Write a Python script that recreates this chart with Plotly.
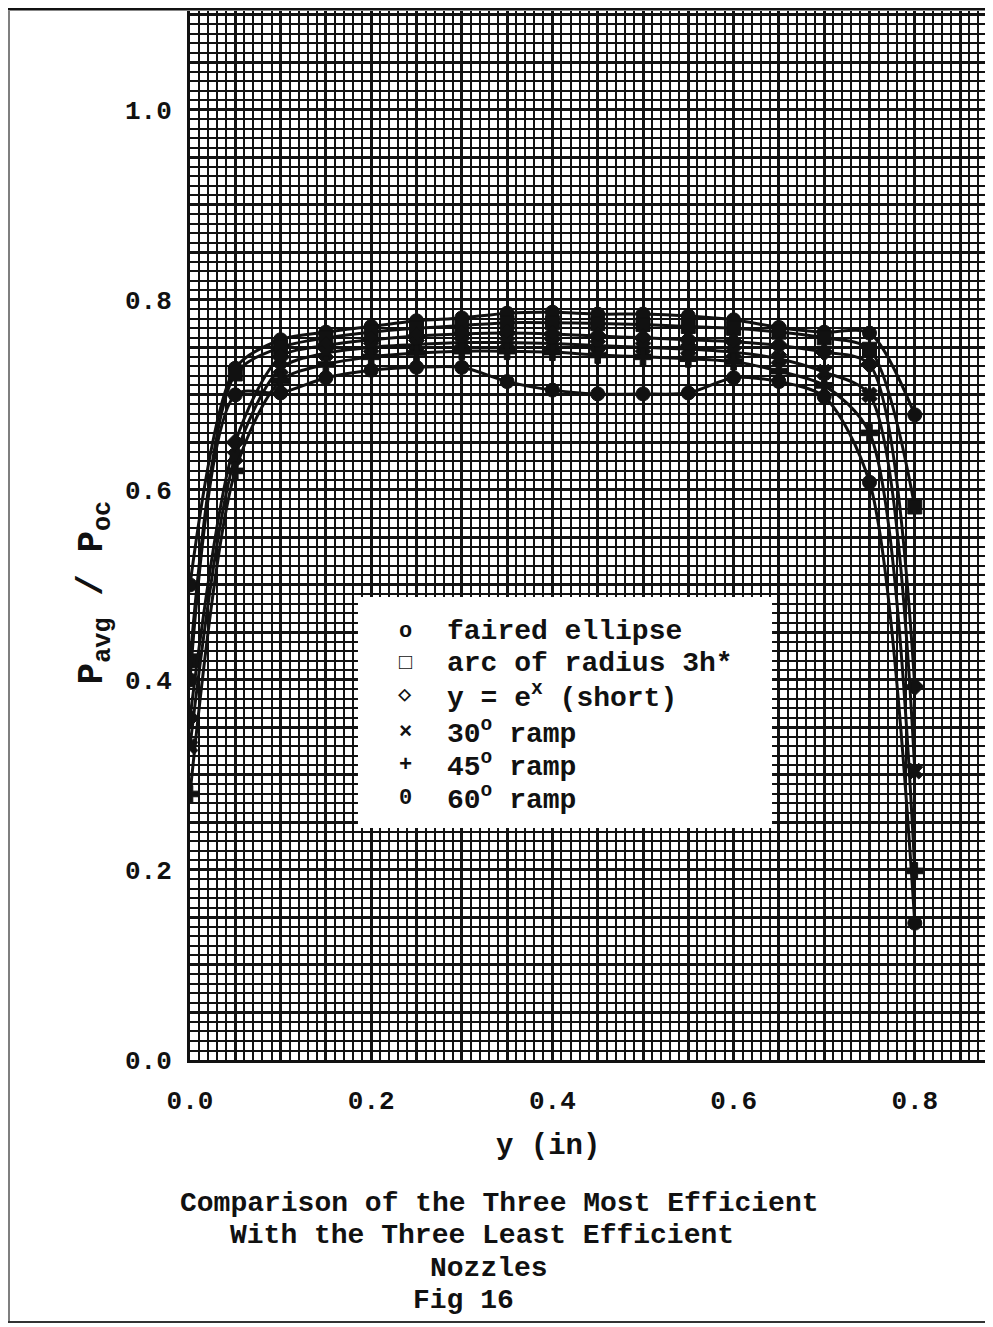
import numpy as np
import plotly.graph_objects as go

# ---------------- data ----------------
y_in = [0.00, 0.05, 0.10, 0.15, 0.20, 0.25, 0.30, 0.35, 0.40,
        0.45, 0.50, 0.55, 0.60, 0.65, 0.70, 0.75, 0.80]

faired_ellipse = [0.50, 0.728, 0.758, 0.766, 0.772, 0.778, 0.781, 0.786, 0.787,
                  0.785, 0.785, 0.783, 0.779, 0.771, 0.766, 0.765, 0.679]
arc_radius_3h = [0.42, 0.722, 0.750, 0.760, 0.766, 0.770, 0.773, 0.776, 0.776,
                 0.775, 0.774, 0.772, 0.770, 0.766, 0.760, 0.748, 0.582]
exp_short = [0.36, 0.650, 0.740, 0.752, 0.758, 0.762, 0.764, 0.765, 0.764,
             0.762, 0.760, 0.758, 0.756, 0.752, 0.745, 0.732, 0.393]
ramp_30 = [0.33, 0.635, 0.728, 0.744, 0.750, 0.753, 0.755, 0.755, 0.754,
           0.752, 0.750, 0.748, 0.745, 0.738, 0.724, 0.700, 0.304]
ramp_45 = [0.28, 0.620, 0.715, 0.732, 0.740, 0.744, 0.746, 0.746, 0.745,
           0.742, 0.740, 0.738, 0.735, 0.725, 0.710, 0.660, 0.199]
ramp_60 = [0.40, 0.700, 0.702, 0.718, 0.726, 0.729, 0.729, 0.714, 0.705,
           0.701, 0.701, 0.702, 0.718, 0.714, 0.698, 0.608, 0.144]

series = [faired_ellipse, arc_radius_3h, exp_short, ramp_30, ramp_45, ramp_60]
plot_symbols = ["circle", "square", "diamond", "x", "cross", "circle"]
legend_symbols = ["o", "□", "◇", "×", "+", "0"]
legend_labels = ["faired ellipse", "arc of radius 3h*", "y = e<sup>x</sup> (short)",
                 "30<sup>o</sup> ramp", "45<sup>o</sup> ramp", "60<sup>o</sup> ramp"]

x_ticks = [0.0, 0.2, 0.4, 0.6, 0.8]
y_ticks = [0.0, 0.2, 0.4, 0.6, 0.8, 1.0]

# ---------------- figure ----------------
INK = "#111111"
FONT = "Liberation Mono, DejaVu Sans Mono, monospace"
XR = [0, 0.8863]
YR = [0, 1.104]

fig = go.Figure()
# empty trace on the overlay axes carrying the 0.05 graph-paper rulings
fig.add_trace(go.Scatter(x=[], y=[], xaxis="x2", yaxis="y2", showlegend=False,
                         hoverinfo="skip"))
for vals, sym in zip(series, plot_symbols):
    fig.add_trace(go.Scatter(
        x=y_in, y=vals, mode="lines+markers",
        line=dict(color=INK, width=3, shape="spline", smoothing=0.8),
        marker=dict(symbol=sym, size=14, color=INK, line=dict(color=INK, width=1)),
        showlegend=False, hoverinfo="skip"))

tickfont = dict(family=FONT, size=26, color=INK, weight="bold")
fig.update_layout(
    xaxis=dict(range=XR, tickvals=x_ticks, ticktext=[f"{v:.1f}" for v in x_ticks], ticks="",
               showgrid=True, gridcolor=INK, gridwidth=3.2,
               minor=dict(dtick=0.01, showgrid=True, gridcolor=INK, gridwidth=2.2, ticks=""),
               showline=True, linecolor=INK, linewidth=3, zeroline=False,
               tickfont=tickfont, ticklabelstandoff=15),
    yaxis=dict(range=YR, tickvals=y_ticks, ticktext=[f"{v:.1f}" for v in y_ticks], ticks="",
               showgrid=True, gridcolor=INK, gridwidth=3.2,
               minor=dict(dtick=0.01, showgrid=True, gridcolor=INK, gridwidth=2.2, ticks=""),
               showline=True, linecolor=INK, linewidth=3, zeroline=False,
               tickfont=tickfont, ticklabelstandoff=10),
    xaxis2=dict(range=XR, overlaying="x", anchor="y", dtick=0.05, tick0=0,
                showgrid=True, gridcolor=INK, gridwidth=3.2, showticklabels=False,
                ticks="", zeroline=False, showline=False),
    yaxis2=dict(range=YR, overlaying="y", anchor="x", dtick=0.05, tick0=0,
                showgrid=True, gridcolor=INK, gridwidth=3.2, showticklabels=False,
                ticks="", zeroline=False, showline=False),
)

# legend box (white panel on the graph paper)
fig.add_shape(type="rect", xref="x", yref="y", x0=0.1854, x1=0.6424, y0=0.2442, y1=0.4874,
              fillcolor="white", line=dict(color="white", width=0), layer="above")

row_y = [0.4505, 0.4175, 0.3835, 0.3450, 0.3100, 0.2755]
for yy, sym, lab in zip(row_y, legend_symbols, legend_labels):
    fig.add_annotation(x=0.2373, y=yy, xref="x", yref="y", text=sym, showarrow=False,
                       xanchor="center", yanchor="middle",
                       font=dict(family=FONT, size=22, color=INK, weight="bold"))
    fig.add_annotation(x=0.2815, y=yy, xref="x", yref="y", text=lab, showarrow=False,
                       xanchor="left", yanchor="middle",
                       font=dict(family=FONT, size=28, color=INK, weight="bold"))

# axis titles
fig.add_annotation(x=-0.118, y=0.446, xref="paper", yref="paper",
                   text="P<sub>avg</sub> / P<sub>oc</sub>", textangle=-90, showarrow=False,
                   xanchor="center", yanchor="middle",
                   font=dict(family=FONT, size=36, color=INK, weight="bold"))
fig.add_annotation(x=0.4458, y=-0.0829, xref="paper", yref="paper",
                   text="y (in)", showarrow=False, xanchor="center", yanchor="middle",
                   font=dict(family=FONT, size=29, color=INK, weight="bold"))

# caption
caption = [("Comparison of the Three Most Efficient", 0.386, -0.1372),
           ("With the Three Least Efficient", 0.3636, -0.1677),
           ("Nozzles", 0.3724, -0.1983),
           ("Fig 16", 0.3412, -0.2288)]
for txt, cx, cy in caption:
    fig.add_annotation(x=cx, y=cy, xref="paper", yref="paper", text=txt, showarrow=False,
                       xanchor="center", yanchor="middle",
                       font=dict(family=FONT, size=28, color=INK, weight="bold"))

# page edges
fig.add_shape(type="line", xref="paper", yref="paper", x0=-0.23, x1=1.0, y0=1.0019, y1=1.0019,
              line=dict(color=INK, width=3))
fig.add_shape(type="line", xref="paper", yref="paper", x0=-0.2254, x1=-0.2254, y0=-0.2498, y1=1.0,
              line=dict(color="#555555", width=1.5))
fig.add_shape(type="line", xref="paper", yref="paper", x0=-0.23, x1=1.0, y0=-0.2498, y1=-0.2498,
              line=dict(color="#333333", width=2))

fig.update_layout(
    width=985, height=1319, autosize=False,
    margin=dict(l=182, r=0, t=3, b=267),
    paper_bgcolor="white", plot_bgcolor="white",
    showlegend=False)

fig.write_html("out.html")
